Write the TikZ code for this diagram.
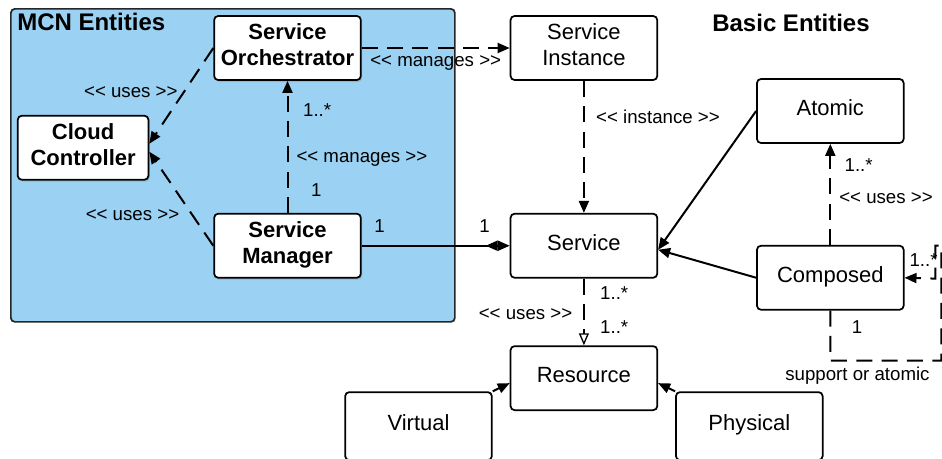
\documentclass[tikz,border=0pt]{standalone}
\usepackage{fontspec}
\setmainfont{Liberation Sans}
\usetikzlibrary{arrows.meta,positioning,shadows}
\definecolor{mcnblue}{HTML}{9BD1F2}
\newcommand\stereo[1]{<\kern0pt< #1 >\kern0pt>}

\begin{document}
\begin{tikzpicture}[x=0.75pt,y=-0.75pt,
  box/.style={draw=black,line width=1.3pt,rounded corners=3pt,fill=white,align=center,minimum width=110pt,minimum height=48pt,font=\fontsize{16.5}{20}\selectfont,execute at end node={\rule[-5pt]{0pt}{0pt}}},
  mbox/.style={box,font=\fontsize{16.5}{20}\selectfont\bfseries,drop shadow={shadow xshift=1pt,shadow yshift=-1.5pt,opacity=0.3}},
  title/.style={font=\fontsize{18}{20}\selectfont\bfseries,inner sep=0pt},
  lbl/.style={font=\fontsize{14}{16}\selectfont,inner sep=1pt},
  arr/.style={-{Triangle[length=9pt,width=7.5pt]},line width=1.5pt},
  dasharr/.style={arr,dash pattern=on 12pt off 7pt}]
\useasboundingbox (0,0) rectangle (942,458);
% MCN area
\node[draw=black!85,line width=1.3pt,rounded corners=3pt,fill=mcnblue,anchor=north west,inner sep=0pt,minimum width=333pt,minimum height=234.75pt] (mcn) at (10,8) {};
\node[title,anchor=west] (mcntitle) at (17,22) {MCN Entities};
\node[title] (basic) at (791,23) {Basic Entities};
\node[mbox] (so) at (287.5,48) {Service\\Orchestrator};
\node[mbox,below left=25.5pt and 48pt of so,minimum width=98pt] (cc) {Cloud\\Controller};
\node[mbox,below=99pt of so] (sm) {Service\\Manager};
% basic entities
\node[box,right=111pt of so] (si) {Service\\Instance};
\node[box,below=99pt of si] (svc) {Service};
\node[box,below=50pt of svc] (res) {Resource};
\node[box,above right=51.75pt and 73.5pt of svc] (atomic) {Atomic};
\node[box,below=75.75pt of atomic] (comp) {Composed};
\node[box,left=12.75pt of res,yshift=-36pt,minimum height=51pt] (virt) {Virtual};
\node[box,right=12.75pt of res,yshift=-36pt,minimum height=51pt] (phys) {Physical};
\draw[dasharr] (so) -- node[lbl,below=4pt] {\stereo{manages}} (si);
\draw[dasharr] (sm) -- node[lbl,pos=0.17,right=16pt] {1} node[lbl,pos=0.41,right=5pt] {\stereo{manages}} node[lbl,pos=0.78,right=10pt] {1..*} (so);
\draw[dasharr] (so.west) -- node[lbl,pos=0.46,left=3pt] {\stereo{uses}} ([yshift=3pt]cc.east);
\draw[dasharr] (sm.west) -- node[lbl,pos=0.33,left=8pt] {\stereo{uses}} ([yshift=-3pt]cc.east);
\draw[arr,-{Triangle[reversed,length=9pt,width=7.5pt]Triangle[length=9pt,width=7.5pt]}] (sm) -- node[lbl,pos=0.12,above=8pt] {1} node[lbl,pos=0.83,above=8pt] {1} (svc);
\draw[dasharr] (si) -- node[lbl,pos=0.27,right=7.5pt] {\stereo{instance}} (svc);
\draw[arr] (atomic.west) -- ([yshift=-3pt]svc.east);
\draw[arr] (comp.west) -- ([yshift=-3pt]svc.east);
\draw[dasharr] (comp) -- node[lbl,pos=0.46,right=5pt] {\stereo{uses}} node[lbl,pos=0.79,right=9pt] {1..*} (atomic);
\draw[dasharr] (comp.south) -- ++(0,50) node[lbl,pos=0.32,right=14.5pt] {1} -- ++(111,0) node[lbl,pos=0.245,below=3pt] {support or atomic} -- ++(0,-115) -- ++(-6,0) -- ++(0,33) -- node[lbl,pos=0.38,above=7pt] {1..*} (comp.east);
\draw[dasharr,-{Triangle[fill=white,line width=1pt,length=9pt,width=7.5pt]}] (svc) -- node[lbl,pos=0.21,right=10.5pt] {1..*} node[lbl,pos=0.54,left=7pt] {\stereo{uses}} node[lbl,pos=0.72,right=10.5pt] {1..*} (res);
\draw[arr] (virt.north east) -- ([yshift=-3.75pt]res.west);
\draw[arr] (phys.north west) -- ([yshift=-3.75pt]res.east);
\end{tikzpicture}
\end{document}
